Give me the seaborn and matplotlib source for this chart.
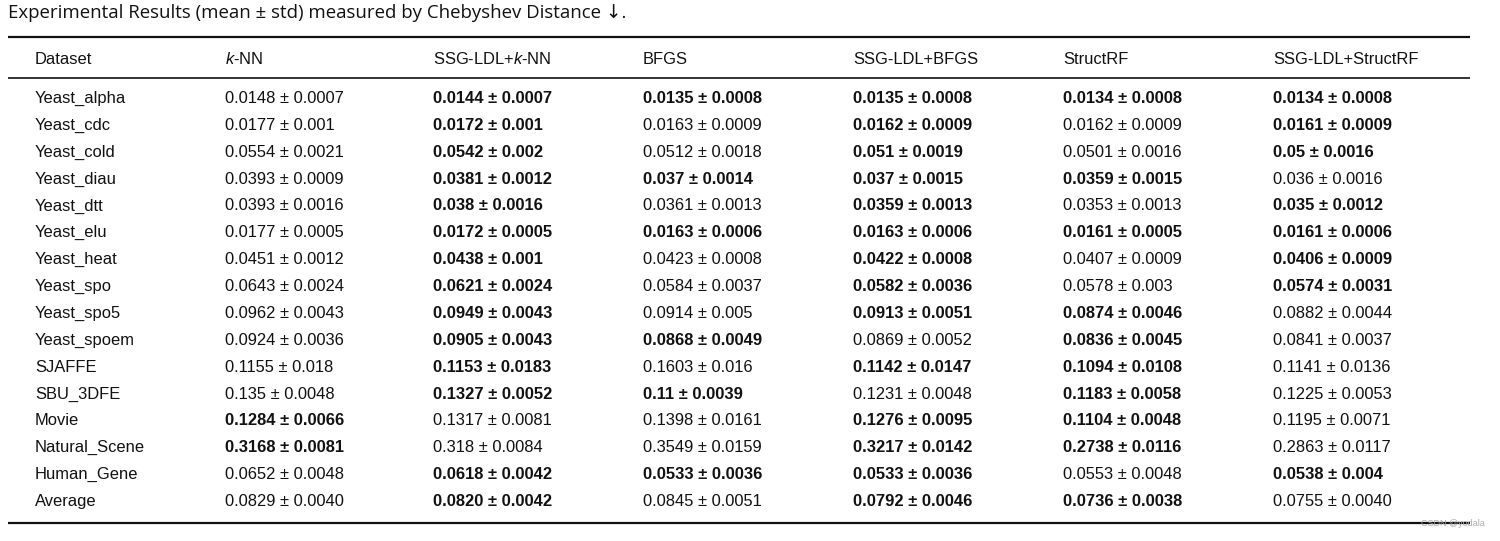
import matplotlib
matplotlib.use("Agg")
import matplotlib.pyplot as plt
import seaborn as sns

# donnees du tableau (Chebyshev distance, mean ± std)
datasets = ["Yeast_alpha", "Yeast_cdc", "Yeast_cold", "Yeast_diau", "Yeast_dtt",
            "Yeast_elu", "Yeast_heat", "Yeast_spo", "Yeast_spo5", "Yeast_spoem",
            "SJAFFE", "SBU_3DFE", "Movie", "Natural_Scene", "Human_Gene", "Average"]

methods = ["$k$-NN", "SSG-LDL+$k$-NN", "BFGS", "SSG-LDL+BFGS", "StructRF", "SSG-LDL+StructRF"]

knn_mean = ["0.0148", "0.0177", "0.0554", "0.0393", "0.0393", "0.0177", "0.0451", "0.0643",
            "0.0962", "0.0924", "0.1155", "0.135", "0.1284", "0.3168", "0.0652", "0.0829"]
knn_std = ["0.0007", "0.001", "0.0021", "0.0009", "0.0016", "0.0005", "0.0012", "0.0024",
           "0.0043", "0.0036", "0.018", "0.0048", "0.0066", "0.0081", "0.0048", "0.0040"]
knn_bold = [0, 0, 0, 0, 0, 0, 0, 0, 0, 0, 0, 0, 1, 1, 0, 0]

ssg_knn_mean = ["0.0144", "0.0172", "0.0542", "0.0381", "0.038", "0.0172", "0.0438", "0.0621",
                "0.0949", "0.0905", "0.1153", "0.1327", "0.1317", "0.318", "0.0618", "0.0820"]
ssg_knn_std = ["0.0007", "0.001", "0.002", "0.0012", "0.0016", "0.0005", "0.001", "0.0024",
               "0.0043", "0.0043", "0.0183", "0.0052", "0.0081", "0.0084", "0.0042", "0.0042"]
ssg_knn_bold = [1, 1, 1, 1, 1, 1, 1, 1, 1, 1, 1, 1, 0, 0, 1, 1]

bfgs_mean = ["0.0135", "0.0163", "0.0512", "0.037", "0.0361", "0.0163", "0.0423", "0.0584",
             "0.0914", "0.0868", "0.1603", "0.11", "0.1398", "0.3549", "0.0533", "0.0845"]
bfgs_std = ["0.0008", "0.0009", "0.0018", "0.0014", "0.0013", "0.0006", "0.0008", "0.0037",
            "0.005", "0.0049", "0.016", "0.0039", "0.0161", "0.0159", "0.0036", "0.0051"]
bfgs_bold = [1, 0, 0, 1, 0, 1, 0, 0, 0, 1, 0, 1, 0, 0, 1, 0]

ssg_bfgs_mean = ["0.0135", "0.0162", "0.051", "0.037", "0.0359", "0.0163", "0.0422", "0.0582",
                 "0.0913", "0.0869", "0.1142", "0.1231", "0.1276", "0.3217", "0.0533", "0.0792"]
ssg_bfgs_std = ["0.0008", "0.0009", "0.0019", "0.0015", "0.0013", "0.0006", "0.0008", "0.0036",
                "0.0051", "0.0052", "0.0147", "0.0048", "0.0095", "0.0142", "0.0036", "0.0046"]
ssg_bfgs_bold = [1, 1, 1, 1, 1, 1, 1, 1, 1, 0, 1, 0, 1, 1, 1, 1]

srf_mean = ["0.0134", "0.0162", "0.0501", "0.0359", "0.0353", "0.0161", "0.0407", "0.0578",
            "0.0874", "0.0836", "0.1094", "0.1183", "0.1104", "0.2738", "0.0553", "0.0736"]
srf_std = ["0.0008", "0.0009", "0.0016", "0.0015", "0.0013", "0.0005", "0.0009", "0.003",
           "0.0046", "0.0045", "0.0108", "0.0058", "0.0048", "0.0116", "0.0048", "0.0038"]
srf_bold = [1, 0, 0, 1, 0, 1, 0, 0, 1, 1, 1, 1, 1, 1, 0, 1]

ssg_srf_mean = ["0.0134", "0.0161", "0.05", "0.036", "0.035", "0.0161", "0.0406", "0.0574",
                "0.0882", "0.0841", "0.1141", "0.1225", "0.1195", "0.2863", "0.0538", "0.0755"]
ssg_srf_std = ["0.0008", "0.0009", "0.0016", "0.0016", "0.0012", "0.0006", "0.0009", "0.0031",
               "0.0044", "0.0037", "0.0136", "0.0053", "0.0071", "0.0117", "0.004", "0.0040"]
ssg_srf_bold = [1, 1, 1, 0, 1, 1, 1, 1, 0, 0, 0, 0, 0, 0, 1, 0]

columns = [
    (knn_mean, knn_std, knn_bold),
    (ssg_knn_mean, ssg_knn_std, ssg_knn_bold),
    (bfgs_mean, bfgs_std, bfgs_bold),
    (ssg_bfgs_mean, ssg_bfgs_std, ssg_bfgs_bold),
    (srf_mean, srf_std, srf_bold),
    (ssg_srf_mean, ssg_srf_std, ssg_srf_bold),
]

sns.set_theme(style="white")
plt.rcParams["font.family"] = ["Liberation Sans", "DejaVu Sans"]
plt.rcParams["mathtext.fontset"] = "custom"
plt.rcParams["mathtext.it"] = "Liberation Sans:italic"
plt.rcParams["mathtext.rm"] = "Liberation Sans"

fig = plt.figure(figsize=(15, 5.41), dpi=100)
ax = fig.add_axes([0, 0, 1, 1])
ax.set_xlim(0, 1500)
ax.set_ylim(541, 0)
ax.axis("off")

# mise en page (y = ligne de base du texte)
col_x = [35, 225, 433, 643, 853, 1063, 1273]
header_y = 64
row0_y = 103
row_step = 26.87
fs = 11.9
ink = "#111111"

ax.text(8, 13, "Experimental Results (mean ± std) measured by Chebyshev Distance ↓.",
        fontsize=13.4, va="center", ha="left", color=ink,
        family=["Open Sans", "DejaVu Sans"])

ax.hlines([37, 523], 8, 1470, color=ink, lw=1.6)
ax.hlines(78, 8, 1470, color=ink, lw=1.2)

ax.text(col_x[0], header_y, "Dataset", fontsize=fs, va="baseline", ha="left", color=ink)
for j, name in enumerate(methods):
    ax.text(col_x[j + 1], header_y, name, fontsize=fs, va="baseline", ha="left", color=ink)

for i, ds in enumerate(datasets):
    y = row0_y + i * row_step
    ax.text(col_x[0], y, ds, fontsize=fs, va="baseline", ha="left", color=ink)
    for j, (means, stds, bolds) in enumerate(columns):
        ax.text(col_x[j + 1], y, f"{means[i]} ± {stds[i]}", fontsize=fs, va="baseline",
                ha="left", color=ink, fontweight="bold" if bolds[i] else "normal")

ax.text(1485, 523, "CSDN @yodala", fontsize=6.5, va="center", ha="right", color="#aaaaaa",
        family=["Liberation Sans", "DejaVu Sans"])

fig.savefig("out.png", dpi=100)
